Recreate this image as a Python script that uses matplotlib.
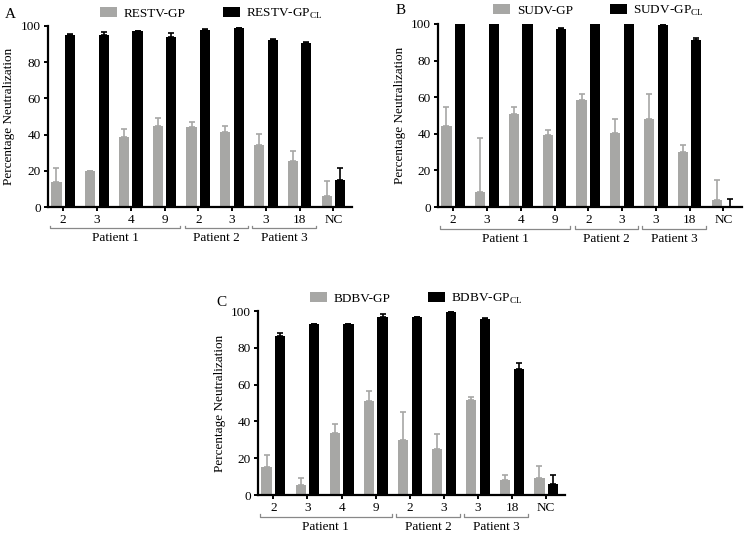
import numpy as np
import matplotlib
matplotlib.use('Agg')
import matplotlib.pyplot as plt

plt.rcParams['font.family'] = ['Liberation Serif', 'DejaVu Serif']
plt.rcParams['mathtext.fontset'] = 'custom'
plt.rcParams['mathtext.rm'] = 'Liberation Serif'

groups = ['2', '3', '4', '9', '2', '3', '3', '18', 'NC']
patients = ['Patient 1', 'Patient 2', 'Patient 3']
patient_span = [(0, 3), (4, 5), (6, 7)]

# panel A - RESTV
restv_gp = [14, 20, 38.5, 45, 44, 41.5, 34, 25.5, 6]
restv_gp_err = [7.5, 0, 4.5, 4, 3, 3.5, 6.5, 5.5, 8.5]
restv_cl = [95, 95, 97, 94, 98, 99, 92.5, 90.5, 15]
restv_cl_err = [0.5, 1.5, 0.3, 2, 0.2, 0.1, 0.5, 0.5, 6.5]

# panel B - SUDV
sudv_gp = [44.5, 8, 51, 39.5, 58.5, 40.5, 48, 30, 4]
sudv_gp_err = [10, 29.5, 3.5, 2.5, 3, 7.5, 14, 4, 11]
sudv_cl = [99.8, 100, 100, 97, 100, 100, 99.5, 91.5, 0]
sudv_cl_err = [0.1, 0, 0, 1, 0, 0, 0.1, 1, 4.5]

# panel C - BDBV
bdbv_gp = [15, 5.5, 33.5, 51, 30, 25, 51.5, 8, 9]
bdbv_gp_err = [6.5, 4, 5, 5.5, 15, 8, 2, 3, 7]
bdbv_cl = [86.5, 92.7, 92.7, 96.5, 96.5, 99.5, 95.7, 68.5, 6]
bdbv_cl_err = [1.5, 0.3, 0.3, 2, 0.5, 0.2, 0.3, 3, 5]

gray = '#a7a7a5'
W, H = 747, 534

fig = plt.figure(figsize=(W/100, H/100), dpi=100)

def px_axes(l, r, t, b):
  return fig.add_axes([l/W, (H-b)/H, (r-l)/W, (b-t)/H])

def panel(ax, gp, gp_err, cl, cl_err, name, letter, letter_xy, leg_xy):
  x = np.arange(len(groups))
  w = 0.3
  b1 = ax.bar(x-0.2, gp, w, color=gray, label=name+'-GP')
  b2 = ax.bar(x+0.2, cl, w, color='black', label=name+r'-GP$_{\mathrm{CL}}$')
  ax.errorbar(x-0.2, gp, yerr=[np.zeros(len(gp)), gp_err], fmt='none',
              ecolor=gray, elinewidth=1.2, capsize=2.5, capthick=1.2)
  ax.errorbar(x+0.2, cl, yerr=[np.zeros(len(cl)), cl_err], fmt='none',
              ecolor='black', elinewidth=1.2, capsize=2.5, capthick=1.2)
  ax.set_xlim(-0.45, 8.55)
  ax.set_ylim(0, 100)
  ax.set_yticks([0, 20, 40, 60, 80, 100])
  ax.set_xticks(x)
  ax.set_xticklabels(groups)
  ax.spines['top'].set_visible(False)
  ax.spines['right'].set_visible(False)
  for s in ['left', 'bottom']:
    ax.spines[s].set_linewidth(1.6)
  ax.tick_params(direction='out', length=3, width=1.4, labelsize=9.5, pad=2)
  ax.set_ylabel('Percentage Neutralization', fontsize=9.5, labelpad=4)
  tr = ax.get_xaxis_transform()
  for (s, e), p in zip(patient_span, patients):
    x0, x1 = s-0.4, e+0.47
    ax.plot([x0, x0, x1, x1], [-0.105, -0.118, -0.118, -0.105], color='#888888',
            lw=0.9, transform=tr, clip_on=False)
    ax.text((x0+x1)/2, -0.14, p, transform=tr, ha='center', va='top', fontsize=9.5)
  fig.text(letter_xy[0]/W, 1-letter_xy[1]/H, letter, fontsize=11, ha='left', va='center')
  fig.legend(handles=[b1, b2], loc='center left',
             bbox_to_anchor=(leg_xy[0]/W, 1-leg_xy[1]/H), ncol=2, frameon=False,
             fontsize=9.5, handlelength=1.3, handleheight=0.8, handletextpad=0.5,
             columnspacing=2.8, borderpad=0, borderaxespad=0)

axA = px_axes(48, 352, 26, 207)
panel(axA, restv_gp, restv_gp_err, restv_cl, restv_cl_err, 'RESTV', 'A', (5, 15), (100, 14))

axB = px_axes(438, 742, 24, 207)
panel(axB, sudv_gp, sudv_gp_err, sudv_cl, sudv_cl_err, 'SUDV', 'B', (396, 10), (493, 11))

axC = px_axes(258, 565, 311, 495)
panel(axC, bdbv_gp, bdbv_gp_err, bdbv_cl, bdbv_cl_err, 'BDBV', 'C', (216, 302), (310, 299))

plt.savefig('out.png', dpi=100)
